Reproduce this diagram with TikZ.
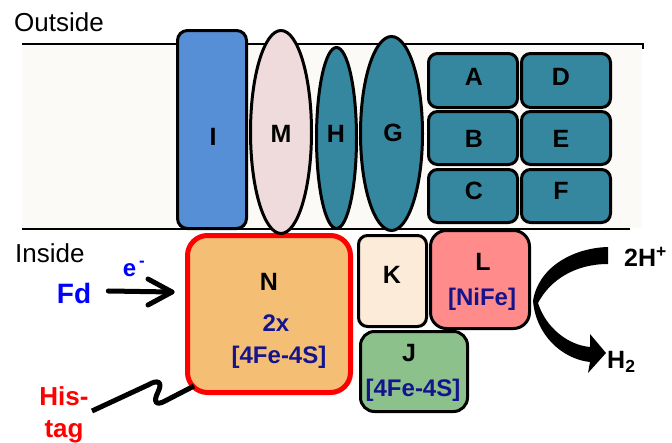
\documentclass[tikz,border=0pt]{standalone}
\usepackage{fontspec}
\setmainfont{Liberation Sans}
\usetikzlibrary{shapes.geometric,calc}

\definecolor{membrane}{HTML}{FBFAF6}
\definecolor{subI}{HTML}{568FD5}
\definecolor{subM}{HTML}{EFDBDB}
\definecolor{teal}{HTML}{35879F}
\definecolor{subN}{HTML}{F4BE75}
\definecolor{subK}{HTML}{FCEBD9}
\definecolor{subL}{HTML}{FF8B8B}
\definecolor{subJ}{HTML}{8CC18C}
\definecolor{cofactor}{RGB}{20,20,140}
\definecolor{fdblue}{HTML}{0000FF}
\definecolor{tagred}{HTML}{FF0000}

\tikzset{
  subbox/.style={draw=black, line width=3pt, rounded corners=#1, inner sep=0pt},
  subbox/.default=9pt,
  subell/.style={draw=black, line width=3pt, ellipse, inner sep=0pt},
  lbl/.style={font=\bfseries\fontsize{25}{28}\selectfont, inner sep=0pt},
  cof/.style={font=\bfseries\fontsize{24}{28}\selectfont, text=cofactor, inner sep=0pt},
  plain/.style={font=\fontsize{26}{30}\selectfont, inner sep=0pt},
  memline/.style={line width=1.5pt},
  thick line/.style={line width=5pt}
}

\begin{document}
\begin{tikzpicture}[x=1pt,y=-1pt]
\useasboundingbox (0,0) rectangle (672,442);

% lipid membrane band
\fill[membrane] (22,44) rectangle (642,228);
\draw[memline] (22,44) -- (643,44) -- (643,49);
\draw[memline] (22,229) -- (630,229);

\node[plain, anchor=base west] (outside) at (14,31.5) {Outside};
\node[plain, anchor=base west] (inside) at (15,262) {Inside};

% cytoplasmic subunits
\node[subbox=20pt, draw=tagred, line width=5pt, fill=subN, minimum width=163pt, minimum height=157pt] (N) at (269,314) {};
\node[subbox, fill=subK, minimum width=68pt, minimum height=91pt] (K) at (392.5,281) {};
\node[subbox=16pt, fill=subL, minimum width=99pt, minimum height=98pt] (L) at (480,279.5) {};
\node[subbox=14pt, fill=subJ, minimum width=107pt, minimum height=80pt] (J) at (414,371.5) {};

\node[lbl] (Nlbl) at (269,282) {N};
\node[cof] (N2x) at (276,323) {2x};
\node[cof] (Nfes) at (279,357) {[4Fe-4S]};
\node[lbl] (Klbl) at (392,275) {K};
\node[lbl] (Llbl) at (483,262) {L};
\node[cof] (Lnife) at (482,299) {[NiFe]};
\node[lbl] (Jlbl) at (409,353) {J};
\node[cof] (Jfes) at (413,390) {[4Fe-4S]};

% membrane subunits
\node[subbox=10pt, fill=subI, minimum width=69pt, minimum height=198pt] (I) at (212,129.5) {};
\node[subell, fill=subM, minimum width=61pt, minimum height=203pt] (M) at (281,132) {};
\node[subell, fill=teal, minimum width=40pt, minimum height=181pt] (H) at (336.5,138) {};
\node[subell, fill=teal, minimum width=62pt, minimum height=194pt] (G) at (391.5,133.5) {};

\node[subbox, fill=teal, minimum width=89pt, minimum height=54pt] (A) at (473,80.5) {};
\node[subbox, fill=teal, minimum width=89pt, minimum height=53pt] (B) at (473,138) {};
\node[subbox, fill=teal, minimum width=89pt, minimum height=53pt] (C) at (473,196) {};
\node[subbox, fill=teal, minimum width=89pt, minimum height=54pt] (D) at (566,80.5) {};
\node[subbox, fill=teal, minimum width=89pt, minimum height=53pt] (E) at (566,138) {};
\node[subbox, fill=teal, minimum width=89pt, minimum height=53pt] (F) at (566,196) {};

\node[lbl] (Ilbl) at (213,137) {I};
\node[lbl] (Mlbl) at (281,134) {M};
\node[lbl] (Hlbl) at (336,134) {H};
\node[lbl] (Glbl) at (393,133) {G};
\node[lbl] (Albl) at (474,77) {A};
\node[lbl] (Blbl) at (474,139) {B};
\node[lbl] (Clbl) at (474,191) {C};
\node[lbl] (Dlbl) at (561,77) {D};
\node[lbl] (Elbl) at (561,139) {E};
\node[lbl] (Flbl) at (561,191) {F};

% electron input from ferredoxin
\node[font=\bfseries\fontsize{28}{32}\selectfont, text=fdblue, inner sep=0pt, anchor=base] (Fd) at (74,303) {Fd};
\node[font=\bfseries\fontsize{24}{28}\selectfont, text=fdblue, inner sep=0pt, anchor=base] (elec) at (134,276) {e\textsuperscript{\,-}};
\coordinate (etail) at ($(Fd.east)+(17,-2)$);
\coordinate (ehead) at ($(N.west)+(-13,-22)$);
\draw[thick line, line cap=round, line join=round] (etail) -- (ehead);
\draw[thick line, line cap=round, line join=round]
  ($(ehead)+(-24,-13)$) -- (ehead) -- ($(ehead)+(-24,13)$);

% his-tag on subunit N
\node[font=\bfseries\fontsize{26}{30}\selectfont, text=tagred, inner sep=0pt, anchor=base] (his) at (64,405) {His-};
\node[font=\bfseries\fontsize{26}{30}\selectfont, text=tagred, inner sep=0pt, anchor=base] (tag) at (64,437) {tag};
\coordinate (tagstart) at (92,411);
\coordinate (tagend) at (194,386);
\draw[thick line] (tagstart) -- (148,385)
  .. controls (158,379) and (163,382) .. (158,392)
  .. controls (153,402) and (156,406) .. (165,401) -- (tagend);

% proton reduction at the [NiFe] site
\node[font=\bfseries\fontsize{25}{28}\selectfont, inner sep=0pt, anchor=west] (Hplus) at (624,257) {2H\textsuperscript{+}};
\node[font=\bfseries\fontsize{25}{28}\selectfont, inner sep=0pt, anchor=west] (H2) at (607,362) {H\textsubscript{2}};
\coordinate (arcTopOut) at (608,247);
\coordinate (arcTopIn) at (608,264);
\coordinate (arcMid) at (533,301);
\coordinate (tipPt) at (606,353);
\fill[black] (arcTopOut)
  .. controls (572,248) and (538,268) .. (arcMid)
  .. controls (536,335) and (562,359) .. (590,362)
  -- (588,373) -- (tipPt) -- (590,334) -- (590,347)
  .. controls (568,345) and (546,328) .. (538,303)
  .. controls (550,280) and (575,264) .. (arcTopIn)
  -- cycle;
\end{tikzpicture}
\end{document}
